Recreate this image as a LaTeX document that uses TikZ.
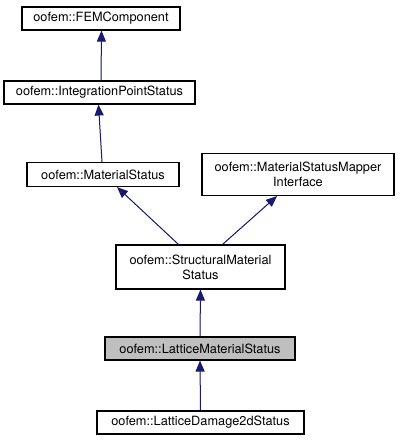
\documentclass[tikz,border=0pt]{standalone}
\usepackage{fontspec}
\setmainfont{TeX Gyre Heros}
\usetikzlibrary{arrows.meta}
\definecolor{edgeblue}{HTML}{191970}
\tikzset{
  cls/.style={draw=black, line width=1.1bp, fill=white, inner sep=0pt, align=center,
    font=\fontsize{12.8}{15}\selectfont},
  hl/.style={cls, fill=black!25},
  inh/.style={draw=edgeblue, line width=1bp, -{Triangle[length=11bp,width=9bp]}, fill=edgeblue}
}
\begin{document}
\begin{tikzpicture}[x=1bp,y=-1bp]
\useasboundingbox (0,0) rectangle (401,440);
\node[cls, minimum width=158bp, minimum height=23bp] (fem) at (101,18.5) {oofem::FEMComponent};
\node[cls, minimum width=191bp, minimum height=23bp] (ips) at (99.5,92.5) {oofem::IntegrationPointStatus};
\node[cls, minimum width=152bp, minimum height=24bp] (ms) at (103,174.5) {oofem::MaterialStatus};
\node[cls, minimum width=192bp, minimum height=42bp] (msmi) at (298,174.5) {oofem::MaterialStatusMapper\\Interface};
\node[cls, minimum width=169bp, minimum height=44bp] (sms) at (200.5,267) {oofem::StructuralMaterial\\Status};
\node[hl, minimum width=190bp, minimum height=23bp] (lms) at (200,348.5) {oofem::LatticeMaterialStatus};
\node[cls, minimum width=207bp, minimum height=23bp] (ld) at (200.5,422.5) {oofem::LatticeDamage2dStatus};
\draw[inh] ([xshift=1.5bp]ips.north) -- ([xshift=0.5bp]fem.south);
\draw[inh] ([xshift=-1bp]ms.north) -- ([xshift=-1bp]ips.north |- ips.south);
\draw[inh] ([xshift=-22bp]sms.north) -- ([xshift=14bp]ms.south);
\draw[inh] ([xshift=22bp]sms.north) -- ([xshift=-21bp]msmi.south);
\draw[inh] (lms.north) -- (sms.south);
\draw[inh] (ld.north) -- (lms.south);
\end{tikzpicture}
\end{document}
